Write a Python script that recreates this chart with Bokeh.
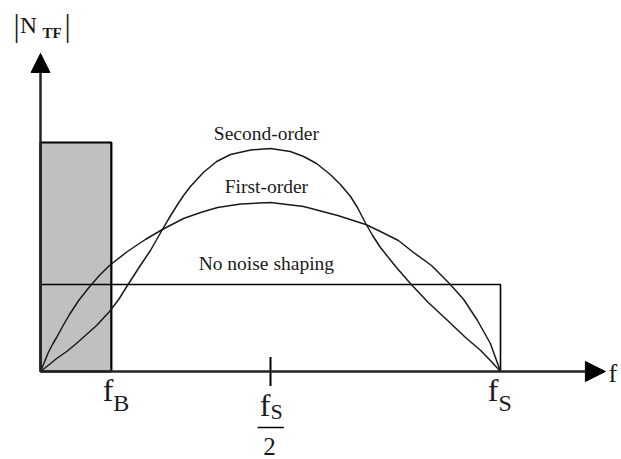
from bokeh.plotting import figure
from bokeh.models import Range1d, Label, Arrow, NormalHead
from bokeh.embed import file_html
from bokeh.resources import INLINE

# ---- data (frequency normalised to fs = 1, |NTF| in arbitrary units) ----
fs = 1.0
fB = 0.154
band_top = 229          # height of the signal band (grey box)
flat_level = 87         # "No noise shaping" level

f_first = [0, 0.009, 0.017, 0.026, 0.035, 0.048, 0.063, 0.083, 0.107, 0.128, 0.150,
           0.189, 0.228, 0.265, 0.311, 0.348, 0.385, 0.435, 0.500, 0.572, 0.646,
           0.707, 0.739, 0.778, 0.811, 0.850, 0.889, 0.920, 0.950, 0.978, 1.000]
n_first = [0, 10, 19, 27, 34, 45, 57, 71, 85, 96, 106,
           120, 132, 142, 153, 159, 164, 167.5, 169, 165, 156,
           147, 140, 131, 119, 106, 88, 72, 51, 28, 0]

f_second = [0, 0.022, 0.035, 0.057, 0.078, 0.100, 0.122, 0.150, 0.170, 0.189, 0.217,
            0.239, 0.265, 0.283, 0.298, 0.311, 0.326, 0.354, 0.383, 0.413, 0.457,
            0.500, 0.543, 0.572, 0.600, 0.630, 0.652, 0.674, 0.689, 0.707, 0.722,
            0.739, 0.772, 0.804, 0.843, 0.885, 0.924, 0.957, 0.978, 1.000]
n_second = [0, 8, 13, 20, 28, 37, 46, 60, 72, 86, 106,
            121, 142, 156, 167, 176, 185, 199, 210, 217, 221.5,
            223, 220, 215, 208, 197, 187, 175, 164, 148, 136,
            124, 105, 88, 69, 51, 34, 21, 11, 0]

axis_x_end = 1.228
axis_y_end = 318
tick_half = 14.5

SERIF = "Liberation Serif"

p = figure(width=621, height=459, output_backend="svg", toolbar_location=None,
           x_range=Range1d(-40 / 460, 581 / 460), y_range=Range1d(-88, 371),
           x_axis_type=None, y_axis_type=None, min_border=0)
p.grid.visible = False
p.outline_line_color = None
p.background_fill_color = "white"

# signal band
p.quad(left=[0], right=[fB], bottom=[0], top=[band_top],
       fill_color="#c0c0c0", line_color="black", line_width=2.2)

# no noise shaping
p.line(x=[0, fs, fs], y=[flat_level, flat_level, 0], line_color="black", line_width=1.6)

# first- and second-order shaping
p.line(f_first, n_first, line_color="#1a1a1a", line_width=1.5, line_join="round")
p.line(f_second, n_second, line_color="#1a1a1a", line_width=1.5, line_join="round")

# axes with arrow heads
p.add_layout(Arrow(x_start=0, y_start=0, x_end=axis_x_end, y_end=0, line_width=2.5,
                   line_color="#222222",
                   end=NormalHead(size=20, fill_color="black", line_color="black")))
p.add_layout(Arrow(x_start=0, y_start=0, x_end=0, y_end=axis_y_end, line_width=2.5,
                   line_color="#222222",
                   end=NormalHead(size=19, fill_color="black", line_color="black")))

# tick at fs/2
p.segment(x0=[fs / 2], y0=[-tick_half], x1=[fs / 2], y1=[tick_half],
          line_color="black", line_width=2)
# fraction bar for fs/2
p.segment(x0=[fs / 2 - 0.028], y0=[-56], x1=[fs / 2 + 0.029], y1=[-56],
          line_color="black", line_width=1.5)


def lab(x, y, text, size, align="left", xo=0, bold=False):
    p.add_layout(Label(x=x, y=y, text=text, text_font=SERIF, text_font_size=size,
                       text_align=align, text_baseline="alphabetic", x_offset=xo,
                       text_color="#1a1a1a",
                       text_font_style="bold" if bold else "normal"))


# curve names
lab(0.491, 238, "Second-order", "19.5px", "center")
lab(0.491, 185, "First-order", "19.5px", "center")
lab(0.491, 108, "No noise shaping", "19.5px", "center")

# y-axis title |N_TF|
lab(-0.052, 346, "|", "31px", "center")
lab(-0.0445, 347, "N", "23.5px", "left")
lab(0.0043, 339, "TF", "15px", "left", bold=True)
lab(0.0587, 346, "|", "31px", "center")

# x-axis title
lab(1.2348, -2, "f", "26px", "left")

# f_B
lab(fB, -18, "f", "32px", "right", xo=2)
lab(fB, -31, "B", "24px", "left", xo=2)
# f_S
lab(fs, -18, "f", "32px", "right", xo=-2)
lab(fs, -31, "S", "24px", "left", xo=-2)
# fs / 2
lab(fs / 2, -33, "f", "32px", "right", xo=0)
lab(fs / 2, -40, "S", "22px", "left", xo=0)
lab(fs / 2, -75, "2", "25px", "center", xo=-1)

open("out.html", "w").write(file_html(p, INLINE))
